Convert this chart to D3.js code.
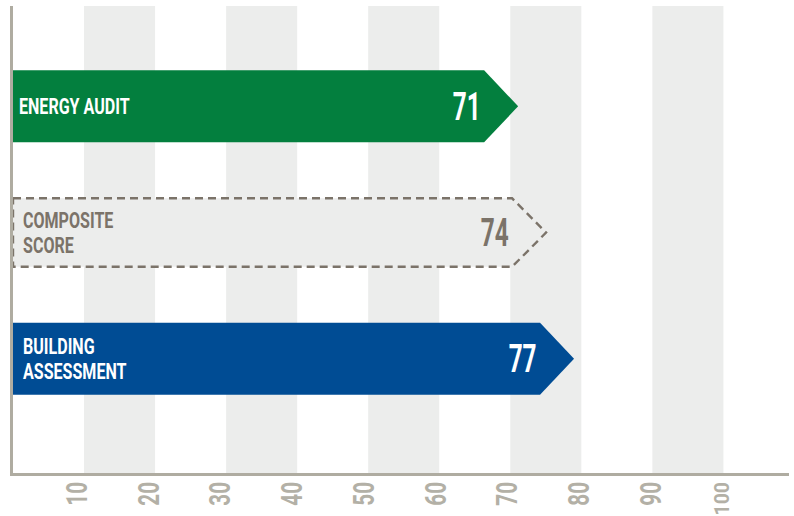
<!DOCTYPE html>
<html>
<head>
<meta charset="utf-8">
<script src="https://cdn.jsdelivr.net/npm/d3@7"></script>
<style>
  html, body { margin: 0; padding: 0; background: #fff; }
  svg { display: block; }
  text { font-family: Roboto, "Liberation Sans", sans-serif; font-weight: 700; }
</style>
</head>
<body>
<svg id="chart" width="794" height="516"></svg>
<script>
// ---- data ----
const categories = ["ENERGY AUDIT", "COMPOSITE SCORE", "BUILDING ASSESSMENT"];
const labelLines = [["ENERGY AUDIT"], ["COMPOSITE", "SCORE"], ["BUILDING", "ASSESSMENT"]];
const values = [71, 74, 77];
const tickValues = [10, 20, 30, 40, 50, 60, 70, 80, 90, 100];
const shadedBands = [[10, 20], [30, 40], [50, 60], [70, 80], [90, 100]];

// ---- styling ----
const fills = { "ENERGY AUDIT": "#037f3e", "COMPOSITE SCORE": "#ecedec", "BUILDING ASSESSMENT": "#004c94" };
const inks = { "ENERGY AUDIT": "#ffffff", "COMPOSITE SCORE": "#7b7369", "BUILDING ASSESSMENT": "#ffffff" };
const dashed = { "COMPOSITE SCORE": true };
const axisColor = "#afaca1";
const bandColor = "#ecedec";
const tickColor = "#b3b0a6";

const svg = d3.select("#chart");

// grid scale, bar scale, tick label scale, row positions
const x = d3.scaleLinear().domain([0, 100]).range([13, 723.4]);
const barX = d3.scaleLinear().domain([70, 80]).range([508.8, 602]);
const tickX = d3.scaleLinear().domain([0, 100]).range([14.5, 732]);
const y = d3.scalePoint().domain(categories).range([106.3, 358.8]);

const plotTop = 6, axisY = 474.5, axisRight = 789;
const barH = 72, tipLen = 34, barLeft = 13;

// shaded columns
svg.append("g").selectAll("rect").data(shadedBands).join("rect")
  .attr("x", d => x(d[0]))
  .attr("y", plotTop)
  .attr("width", d => x(d[1]) - x(d[0]))
  .attr("height", axisY - plotTop)
  .attr("fill", bandColor);

// arrow shaped bars
const rows = categories.map((c, i) => ({ cat: c, value: values[i], lines: labelLines[i] }));

function arrowPath(d) {
  const tip = barX(d.value);
  const yc = y(d.cat);
  const h = dashed[d.cat] ? barH - 3.5 : barH;
  const p = d3.path();
  p.moveTo(barLeft, yc - h / 2);
  p.lineTo(tip - tipLen, yc - h / 2);
  p.lineTo(tip, yc);
  p.lineTo(tip - tipLen, yc + h / 2);
  p.lineTo(barLeft, yc + h / 2);
  p.closePath();
  return p.toString();
}

const bars = svg.append("g").selectAll("g").data(rows).join("g");

bars.append("path")
  .attr("d", arrowPath)
  .attr("fill", d => fills[d.cat])
  .attr("stroke", d => dashed[d.cat] ? "#7b7369" : "none")
  .attr("stroke-width", 2.4)
  .attr("stroke-dasharray", d => dashed[d.cat] ? "8,5" : null);

// category labels (condensed)
const labelSize = 22, labelCap = 15.5, lineH = 25.5;
bars.each(function (d) {
  const g = d3.select(this);
  const n = d.lines.length;
  const pad = n > 1 ? 10 : 6;
  d.lines.forEach((line, i) => {
    const base = y(d.cat) + (i - (n - 1) / 2) * lineH + labelCap / 2;
    g.append("text")
      .attr("transform", `translate(${barLeft + pad},${base}) scale(0.73,1)`)
      .attr("font-size", labelSize)
      .attr("fill", inks[d.cat])
      .text(line);
  });
});

// value labels
bars.append("text")
  .attr("transform", d => `translate(${barX(d.value) - 37.5},${y(d.cat) + 13.2}) scale(0.64,1)`)
  .attr("text-anchor", "end")
  .attr("font-size", 38)
  .attr("fill", d => inks[d.cat])
  .text(d => d.value);

// axes lines
svg.append("line")
  .attr("x1", 11.5).attr("x2", 11.5)
  .attr("y1", plotTop).attr("y2", axisY + 1.5)
  .attr("stroke", axisColor).attr("stroke-width", 3);

const axis = d3.axisBottom(tickX).tickValues(tickValues).tickSize(0).tickFormat(d3.format("d"));
const axisG = svg.append("g").attr("transform", `translate(0,${axisY})`).call(axis);
axisG.select(".domain").remove();
axisG.selectAll(".tick text")
  .attr("x", 0).attr("y", 0).attr("dy", null)
  .attr("text-anchor", "end")
  .attr("font-size", 29.5)
  .attr("font-family", "Roboto, sans-serif")
  .attr("font-weight", 700)
  .attr("fill", tickColor)
  .attr("transform", d => {
    // the widest label is squeezed so it stays inside the plot
    const wide = String(d).length > 2;
    return `translate(${wide ? -4 : 0},7.5) rotate(-90) scale(${wide ? 0.66 : 0.7},${wide ? 0.71 : 1})`;
  });

svg.append("line")
  .attr("x1", 10).attr("x2", axisRight)
  .attr("y1", axisY).attr("y2", axisY)
  .attr("stroke", axisColor).attr("stroke-width", 3);
</script>
</body>
</html>
